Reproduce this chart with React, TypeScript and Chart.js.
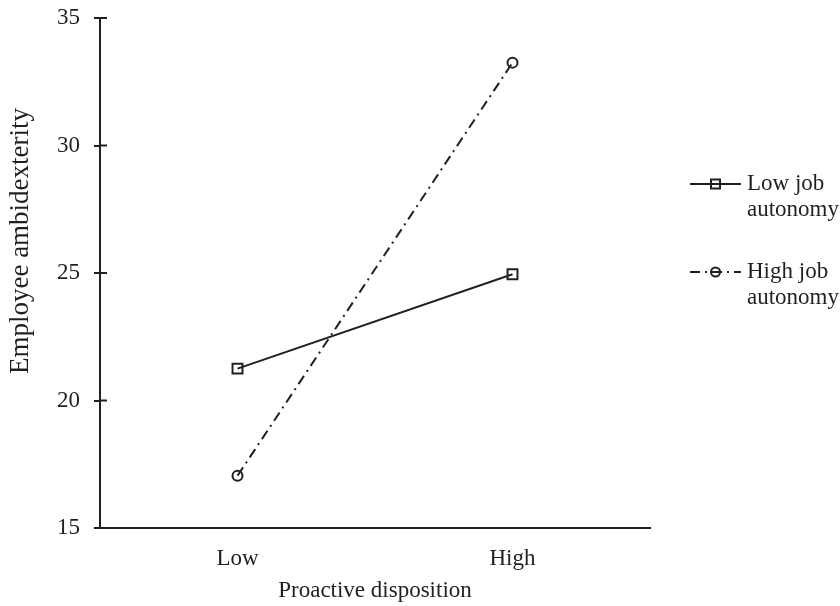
import React, { useEffect, useRef } from "react";
import { Chart, registerables } from "chart.js";

Chart.register(...registerables);

// ---- data ----
const categories = ["Low", "High"];
const lowAutonomy = [21.25, 24.95];
const highAutonomy = [17.05, 33.25];
const seriesLabels = ["Low job autonomy", "High job autonomy"];
const legendLines = [
  ["Low job", "autonomy"],
  ["High job", "autonomy"],
];
const yTicks = [15, 20, 25, 30, 35];
const xTitle = "Proactive disposition";
const yTitle = "Employee ambidexterity";

const INK = "#231f20";
const FONT = "'Liberation Serif', 'Times New Roman', serif";

const innerTicks = {
  id: "innerTicks",
  afterDraw(chart: any) {
    const { ctx, chartArea, scales } = chart;
    const y = scales.y;
    ctx.save();
    ctx.strokeStyle = INK;
    ctx.lineWidth = 2;
    yTicks.forEach((v) => {
      const py = y.getPixelForValue(v);
      ctx.beginPath();
      ctx.moveTo(chartArea.left, py);
      ctx.lineTo(chartArea.left + 7, py);
      ctx.stroke();
    });
    ctx.restore();
  },
};

const yTitlePlugin = {
  id: "yTitlePlugin",
  afterDraw(chart: any) {
    const { ctx } = chart;
    ctx.save();
    ctx.fillStyle = INK;
    ctx.font = `27px ${FONT}`;
    ctx.translate(28, 241);
    ctx.rotate(-Math.PI / 2);
    ctx.textAlign = "center";
    ctx.textBaseline = "alphabetic";
    ctx.fillText(yTitle, 0, 0);
    ctx.restore();
  },
};

const sideLegend = {
  id: "sideLegend",
  afterDraw(chart: any) {
    const { ctx } = chart;
    const x0 = 690;
    const x1 = 741;
    const rows = [184, 272];
    chart.data.datasets.forEach((ds: any, i: number) => {
      const y = rows[i];
      ctx.save();
      ctx.strokeStyle = INK;
      ctx.lineWidth = 2;
      ctx.setLineDash(ds.borderDash || []);
      ctx.beginPath();
      ctx.moveTo(x0, y);
      ctx.lineTo(x1, y);
      ctx.stroke();
      ctx.setLineDash([]);
      const cx = (x0 + x1) / 2;
      ctx.beginPath();
      if (ds.pointStyle === "rect") {
        ctx.rect(cx - 4.5, y - 4.5, 9, 9);
      } else {
        ctx.arc(cx, y, 4.5, 0, Math.PI * 2);
      }
      ctx.stroke();
      ctx.fillStyle = INK;
      ctx.font = `23px ${FONT}`;
      ctx.textAlign = "left";
      ctx.textBaseline = "middle";
      legendLines[i].forEach((t, k) => ctx.fillText(t, 747, y + k * 26));
      ctx.restore();
    });
  },
};

export default function App() {
  const ref = useRef<HTMLCanvasElement | null>(null);

  useEffect(() => {
    if (!ref.current) return;
    const chart = new Chart(ref.current, {
      type: "line",
      data: {
        labels: categories,
        datasets: [
          {
            label: seriesLabels[0],
            data: lowAutonomy,
            borderColor: INK,
            borderWidth: 2,
            pointStyle: "rect",
            pointRadius: 7,
            pointBorderWidth: 2,
            pointBorderColor: INK,
            pointBackgroundColor: "rgba(0,0,0,0)",
            fill: false,
          },
          {
            label: seriesLabels[1],
            data: highAutonomy,
            borderColor: INK,
            borderWidth: 2,
            borderDash: [10, 5, 2, 5],
            pointStyle: "circle",
            pointRadius: 5,
            pointBorderWidth: 2,
            pointBorderColor: INK,
            pointBackgroundColor: "rgba(0,0,0,0)",
            fill: false,
          },
        ],
      },
      options: {
        responsive: false,
        animation: false,
        layout: { padding: { top: 18, right: 190, bottom: 0, left: 0 } },
        plugins: {
          legend: { display: false },
          tooltip: { enabled: false },
        },
        scales: {
          x: {
            type: "category",
            offset: true,
            grid: { display: false, drawTicks: false },
            border: { display: true, color: INK, width: 2 },
            ticks: {
              color: INK,
              font: { family: FONT, size: 23 },
              padding: 17,
            },
            title: {
              display: true,
              text: xTitle,
              color: INK,
              font: { family: FONT, size: 23 },
              padding: { top: 0, bottom: 1 },
            },
            afterFit: (scale: any) => {
              scale.height = 78;
              scale.paddingLeft = 0;
              scale.paddingRight = 0;
            },
          },
          y: {
            min: 15,
            max: 35,
            afterBuildTicks: (scale: any) => {
              scale.ticks = yTicks.map((v) => ({ value: v }));
            },
            grid: {
              display: true,
              drawOnChartArea: false,
              drawTicks: true,
              tickLength: 6,
              color: INK,
              lineWidth: 2,
            },
            border: { display: true, color: INK, width: 2 },
            ticks: {
              color: INK,
              font: { family: FONT, size: 23 },
              padding: 14,
            },
            afterFit: (scale: any) => {
              scale.width = 100;
              scale.paddingTop = 0;
              scale.paddingBottom = 0;
            },
          },
        },
      },
      plugins: [innerTicks, yTitlePlugin, sideLegend],
    });
    return () => chart.destroy();
  }, []);

  return (
    <div style={{ position: "absolute", left: 0, top: 0, width: 840, height: 606, background: "#fff" }}>
      <canvas ref={ref} width={840} height={606} style={{ display: "block" }} />
    </div>
  );
}
